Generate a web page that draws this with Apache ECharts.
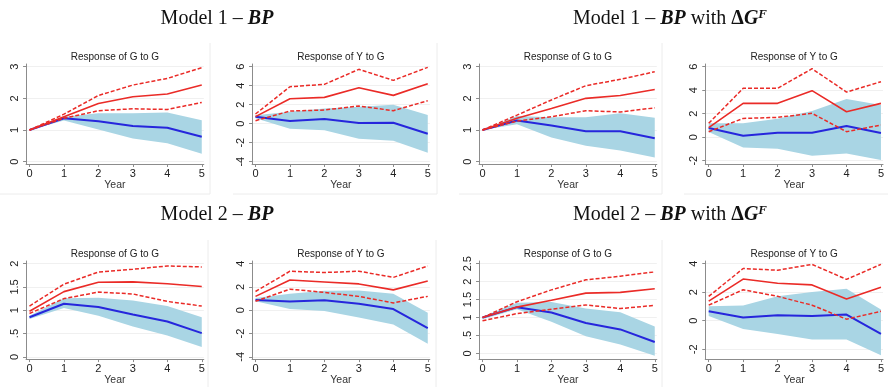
<!DOCTYPE html>
<html>
<head>
<meta charset="utf-8">
<script src="https://cdn.jsdelivr.net/npm/echarts@6/dist/echarts.min.js"></script>
<style>
  html, body { margin: 0; padding: 0; background: #fff; }
  #chart { width: 888px; height: 387px; }
</style>
</head>
<body>
<div id="chart"></div>
<script>
const years = [0, 1, 2, 3, 4, 5];

// tick labels
const ticksG3 = [0, 1, 2, 3];
const ticksY6 = [-4, -2, 0, 2, 4, 6];
const ticksY6b = [-2, 0, 2, 4, 6];
const ticksG2 = [0, 0.5, 1, 1.5, 2];
const ticksY4 = [-4, -2, 0, 2, 4];
const ticksG25 = [0, 0.5, 1, 1.5, 2, 2.5];
const ticksY4b = [-2, 0, 2, 4];

// Model 1 - BP, response of G to G
const m1GgRed = [1.0, 1.42, 1.84, 2.05, 2.14, 2.42];
const m1GgRedHi = [1.0, 1.5, 2.09, 2.42, 2.63, 2.97];
const m1GgRedLo = [1.0, 1.37, 1.61, 1.67, 1.65, 1.87];
const m1GgBlue = [1.0, 1.37, 1.28, 1.13, 1.07, 0.79];
const m1GgBandHi = [1.0, 1.42, 1.53, 1.53, 1.55, 1.31];
const m1GgBandLo = [1.0, 1.3, 1.02, 0.73, 0.58, 0.25];

// Model 1 - BP, response of Y to G
const m1YgRed = [0.74, 2.63, 2.77, 3.79, 2.98, 4.21];
const m1YgRedHi = [1.02, 3.89, 4.14, 5.72, 4.56, 5.93];
const m1YgRedLo = [0.32, 1.33, 1.44, 1.86, 1.37, 2.42];
const m1YgBlue = [0.74, 0.28, 0.49, 0.07, 0.1, -1.05];
const m1YgBandHi = [0.9, 1.26, 1.6, 1.79, 2.0, 0.91];
const m1YgBandLo = [0.56, -0.53, -0.7, -1.58, -1.79, -3.05];

// Model 1 - BP with dGF, response of G to G
const m1dGgRed = [1.0, 1.37, 1.68, 2.0, 2.09, 2.28];
const m1dGgRedHi = [1.0, 1.47, 1.95, 2.4, 2.6, 2.84];
const m1dGgRedLo = [1.0, 1.28, 1.42, 1.61, 1.57, 1.7];
const m1dGgBlue = [1.0, 1.3, 1.14, 0.96, 0.96, 0.74];
const m1dGgBandHi = [1.0, 1.44, 1.4, 1.4, 1.53, 1.39];
const m1dGgBandLo = [1.0, 1.18, 0.76, 0.5, 0.35, 0.13];

// Model 1 - BP with dGF, response of Y to G
const m1dYgRed = [0.81, 2.88, 2.88, 3.96, 2.17, 2.88];
const m1dYgRedHi = [1.18, 4.16, 4.16, 5.83, 3.84, 4.72];
const m1dYgRedLo = [0.47, 1.6, 1.69, 2.03, 0.47, 1.04];
const m1dYgBlue = [0.78, 0.13, 0.38, 0.38, 0.95, 0.35];
const m1dYgBandHi = [1.18, 1.18, 1.57, 2.23, 3.25, 2.74];
const m1dYgBandLo = [0.44, -0.87, -0.98, -1.57, -1.38, -1.94];

// Model 2 - BP, response of G to G
const m2GgRed = [0.98, 1.40, 1.6, 1.61, 1.57, 1.51];
const m2GgRedHi = [1.09, 1.56, 1.82, 1.88, 1.95, 1.93];
const m2GgRedLo = [0.93, 1.25, 1.39, 1.35, 1.19, 1.09];
const m2GgBlue = [0.85, 1.14, 1.07, 0.91, 0.76, 0.51];
const m2GgBandHi = [0.88, 1.26, 1.27, 1.21, 1.09, 0.85];
const m2GgBandLo = [0.81, 1.05, 0.88, 0.65, 0.46, 0.21];

// Model 2 - BP, response of Y to G
const m2YgRed = [1.19, 2.6, 2.43, 2.26, 1.75, 2.51];
const m2YgRedHi = [1.61, 3.35, 3.24, 3.35, 2.82, 3.8];
const m2YgRedLo = [0.77, 1.81, 1.53, 1.19, 0.63, 1.19];
const m2YgBlue = [0.88, 0.74, 0.86, 0.55, 0.1, -1.53];
const m2YgBandHi = [1.05, 1.42, 1.67, 1.7, 1.42, -0.21];
const m2YgBandLo = [0.77, 0.1, -0.07, -0.63, -1.22, -2.88];

// Model 2 - BP with dGF, response of G to G
const m2dGgRed = [1.0, 1.29, 1.48, 1.68, 1.7, 1.8];
const m2dGgRedHi = [1.0, 1.44, 1.77, 2.05, 2.15, 2.27];
const m2dGgRedLo = [0.91, 1.11, 1.23, 1.35, 1.25, 1.34];
const m2dGgBlue = [1.0, 1.29, 1.14, 0.85, 0.67, 0.32];
const m2dGgBandHi = [1.02, 1.41, 1.43, 1.25, 1.15, 0.75];
const m2dGgBandLo = [0.95, 1.23, 0.88, 0.48, 0.25, -0.06];

// Model 2 - BP with dGF, response of Y to G
const m2dYgRed = [1.37, 2.92, 2.63, 2.51, 1.53, 2.35];
const m2dYgRedHi = [1.71, 3.66, 3.54, 3.95, 2.9, 3.95];
const m2dYgRedLo = [1.09, 2.17, 1.71, 1.09, 0.11, 0.66];
const m2dYgBlue = [0.66, 0.22, 0.38, 0.34, 0.43, -0.92];
const m2dYgBandHi = [1.02, 1.07, 1.71, 2.01, 2.24, 0.79];
const m2dYgBandLo = [0.34, -0.58, -0.92, -1.31, -1.31, -2.41];

const RED = '#ea2b27';
const BLUE = '#2626dc';
const BAND = '#a9d5e4';
const AXIS = '#8c8c8c';
const FONT = 'Liberation Sans, Arial, sans-serif';

// x pixel of year 0 for each column, and pixels per year
const colX = [29.5, 255.5, 482.5, 708.7];
const rowTop = [64, 261];
const ppx = 34.45;
const plotH = 100;

const panels = [
    {col: 0, row: 0, title: 'Response of G to G', min: -0.073, max: 3.085, ticks: ticksG3,
        red: m1GgRed, hi: m1GgRedHi, lo: m1GgRedLo, blue: m1GgBlue, bandHi: m1GgBandHi, bandLo: m1GgBandLo},
    {col: 1, row: 0, title: 'Response of Y to G', min: -4.24, max: 6.28, ticks: ticksY6,
        red: m1YgRed, hi: m1YgRedHi, lo: m1YgRedLo, blue: m1YgBlue, bandHi: m1YgBandHi, bandLo: m1YgBandLo},
    {col: 2, row: 0, title: 'Response of G to G', min: -0.073, max: 3.085, ticks: ticksG3,
        red: m1dGgRed, hi: m1dGgRedHi, lo: m1dGgRedLo, blue: m1dGgBlue, bandHi: m1dGgBandHi, bandLo: m1dGgBandLo},
    {col: 3, row: 0, title: 'Response of Y to G', min: -2.28, max: 6.23, ticks: ticksY6b,
        red: m1dYgRed, hi: m1dYgRedHi, lo: m1dYgRedLo, blue: m1dYgBlue, bandHi: m1dYgBandHi, bandLo: m1dYgBandLo},
    {col: 0, row: 1, title: 'Response of G to G', min: -0.048, max: 2.057, ticks: ticksG2,
        red: m2GgRed, hi: m2GgRedHi, lo: m2GgRedLo, blue: m2GgBlue, bandHi: m2GgBandHi, bandLo: m2GgBandLo},
    {col: 1, row: 1, title: 'Response of Y to G', min: -4.194, max: 4.227, ticks: ticksY4,
        red: m2YgRed, hi: m2YgRedHi, lo: m2YgRedLo, blue: m2YgBlue, bandHi: m2YgBandHi, bandLo: m2YgBandLo},
    {col: 2, row: 1, title: 'Response of G to G', min: -0.156, max: 2.574, ticks: ticksG25,
        red: m2dGgRed, hi: m2dGgRedHi, lo: m2dGgRedLo, blue: m2dGgBlue, bandHi: m2dGgBandHi, bandLo: m2dGgBandLo},
    {col: 3, row: 1, title: 'Response of Y to G', min: -2.687, max: 4.186, ticks: ticksY4b,
        red: m2dYgRed, hi: m2dYgRedHi, lo: m2dYgRedLo, blue: m2dYgBlue, bandHi: m2dYgBandHi, bandLo: m2dYgBandLo}
];

const stataNum = v => String(v).replace(/^0\./, '.');
const pairs = arr => years.map((x, i) => [x, arr[i]]);

const grid = [], xAxis = [], yAxis = [], series = [], graphic = [];

panels.forEach((p, k) => {
    const left = colX[p.col] - 0.1 * ppx;
    const width = 5.16 * ppx;
    grid.push({left: left, top: rowTop[p.row], width: width, height: plotH});
    xAxis.push({
        gridIndex: k, type: 'value', min: -0.1, max: 5.06,
        name: 'Year', nameLocation: 'middle', nameGap: 15,
        nameTextStyle: {fontFamily: FONT, fontSize: 10.5, color: '#333'},
        axisLine: {onZero: false, lineStyle: {color: AXIS, width: 1}},
        axisTick: {customValues: years, length: 3, lineStyle: {color: AXIS}},
        axisLabel: {customValues: years, margin: 4, fontFamily: FONT, fontSize: 11, color: '#222'},
        splitLine: {show: false}
    });
    yAxis.push({
        gridIndex: k, type: 'value', min: p.min, max: p.max,
        axisLine: {show: true, onZero: false, lineStyle: {color: AXIS, width: 1}},
        axisTick: {show: true, customValues: p.ticks, length: 3, lineStyle: {color: AXIS}},
        axisLabel: {customValues: p.ticks, rotate: 90, margin: 6, fontFamily: FONT, fontSize: 11,
            color: '#222', formatter: stataNum},
        splitLine: {show: true, lineStyle: {color: '#f0f0f0', width: 1}}
    });
    series.push({
        type: 'custom', xAxisIndex: k, yAxisIndex: k, data: [0], silent: true, z: 1,
        renderItem: (params, api) => {
            const up = years.map((x, i) => api.coord([x, p.bandHi[i]]));
            const down = years.map((x, i) => api.coord([x, p.bandLo[i]])).reverse();
            return {type: 'polygon', shape: {points: up.concat(down)}, style: {fill: BAND}};
        }
    });
    const line = (arr, color, width, dashed) => ({
        type: 'line', xAxisIndex: k, yAxisIndex: k, data: pairs(arr), symbol: 'none',
        silent: true, z: 3, animation: false,
        lineStyle: {color: color, width: width, type: dashed ? [4, 2] : 'solid'}
    });
    series.push(line(p.blue, BLUE, 2, false));
    series.push(line(p.hi, RED, 1.5, true));
    series.push(line(p.lo, RED, 1.5, true));
    series.push(line(p.red, RED, 1.6, false));
    graphic.push({
        type: 'text', x: left + width / 2, y: rowTop[p.row] - 7,
        style: {text: p.title, fontFamily: FONT, fontSize: 10, fill: '#222', align: 'center', verticalAlign: 'middle'}
    });
});

// faint frame lines of the pasted panels
const frame = '#ececec';
[[210, 43, 210, 194], [437, 43, 437, 194], [662, 43, 662, 194],
    [0, 194, 210, 194], [233, 194, 437, 194], [459, 194, 662, 194], [684, 194, 888, 194],
    [208, 240, 208, 387], [436, 240, 436, 387], [662, 240, 662, 387]].forEach(l => {
    graphic.push({type: 'line', shape: {x1: l[0], y1: l[1], x2: l[2], y2: l[3]}, style: {stroke: frame, lineWidth: 1}, silent: true});
});

const serif = 'Liberation Serif, Times New Roman, serif';
const rich = {
    r: {fontFamily: serif, fontSize: 20, fill: '#111', lineHeight: 26},
    bi: {fontFamily: serif, fontSize: 20, fontWeight: 'bold', fontStyle: 'italic', fill: '#111', lineHeight: 26},
    b: {fontFamily: serif, fontSize: 20, fontWeight: 'bold', fill: '#111', lineHeight: 26},
    sup: {fontFamily: serif, fontSize: 13, fontWeight: 'bold', fontStyle: 'italic', fill: '#111', lineHeight: 26, padding: [0, 0, 9, 0]}
};
const heading = (x, y, text) => graphic.push({
    type: 'text', x: x, y: y, style: {text: text, rich: rich, align: 'center', verticalAlign: 'middle'}
});
heading(217, 19, '{r|Model 1 – }{bi|BP}');
heading(670, 19, '{r|Model 1 – }{bi|BP}{r| with }{b|Δ}{bi|G}{sup|F}');
heading(217, 215, '{r|Model 2 – }{bi|BP}');
heading(670, 215, '{r|Model 2 – }{bi|BP}{r| with }{b|Δ}{bi|G}{sup|F}');

const myChart = echarts.init(document.getElementById('chart'));
myChart.setOption({
    animation: false,
    backgroundColor: '#fff',
    grid: grid,
    xAxis: xAxis,
    yAxis: yAxis,
    series: series,
    graphic: graphic
});
</script>
</body>
</html>
